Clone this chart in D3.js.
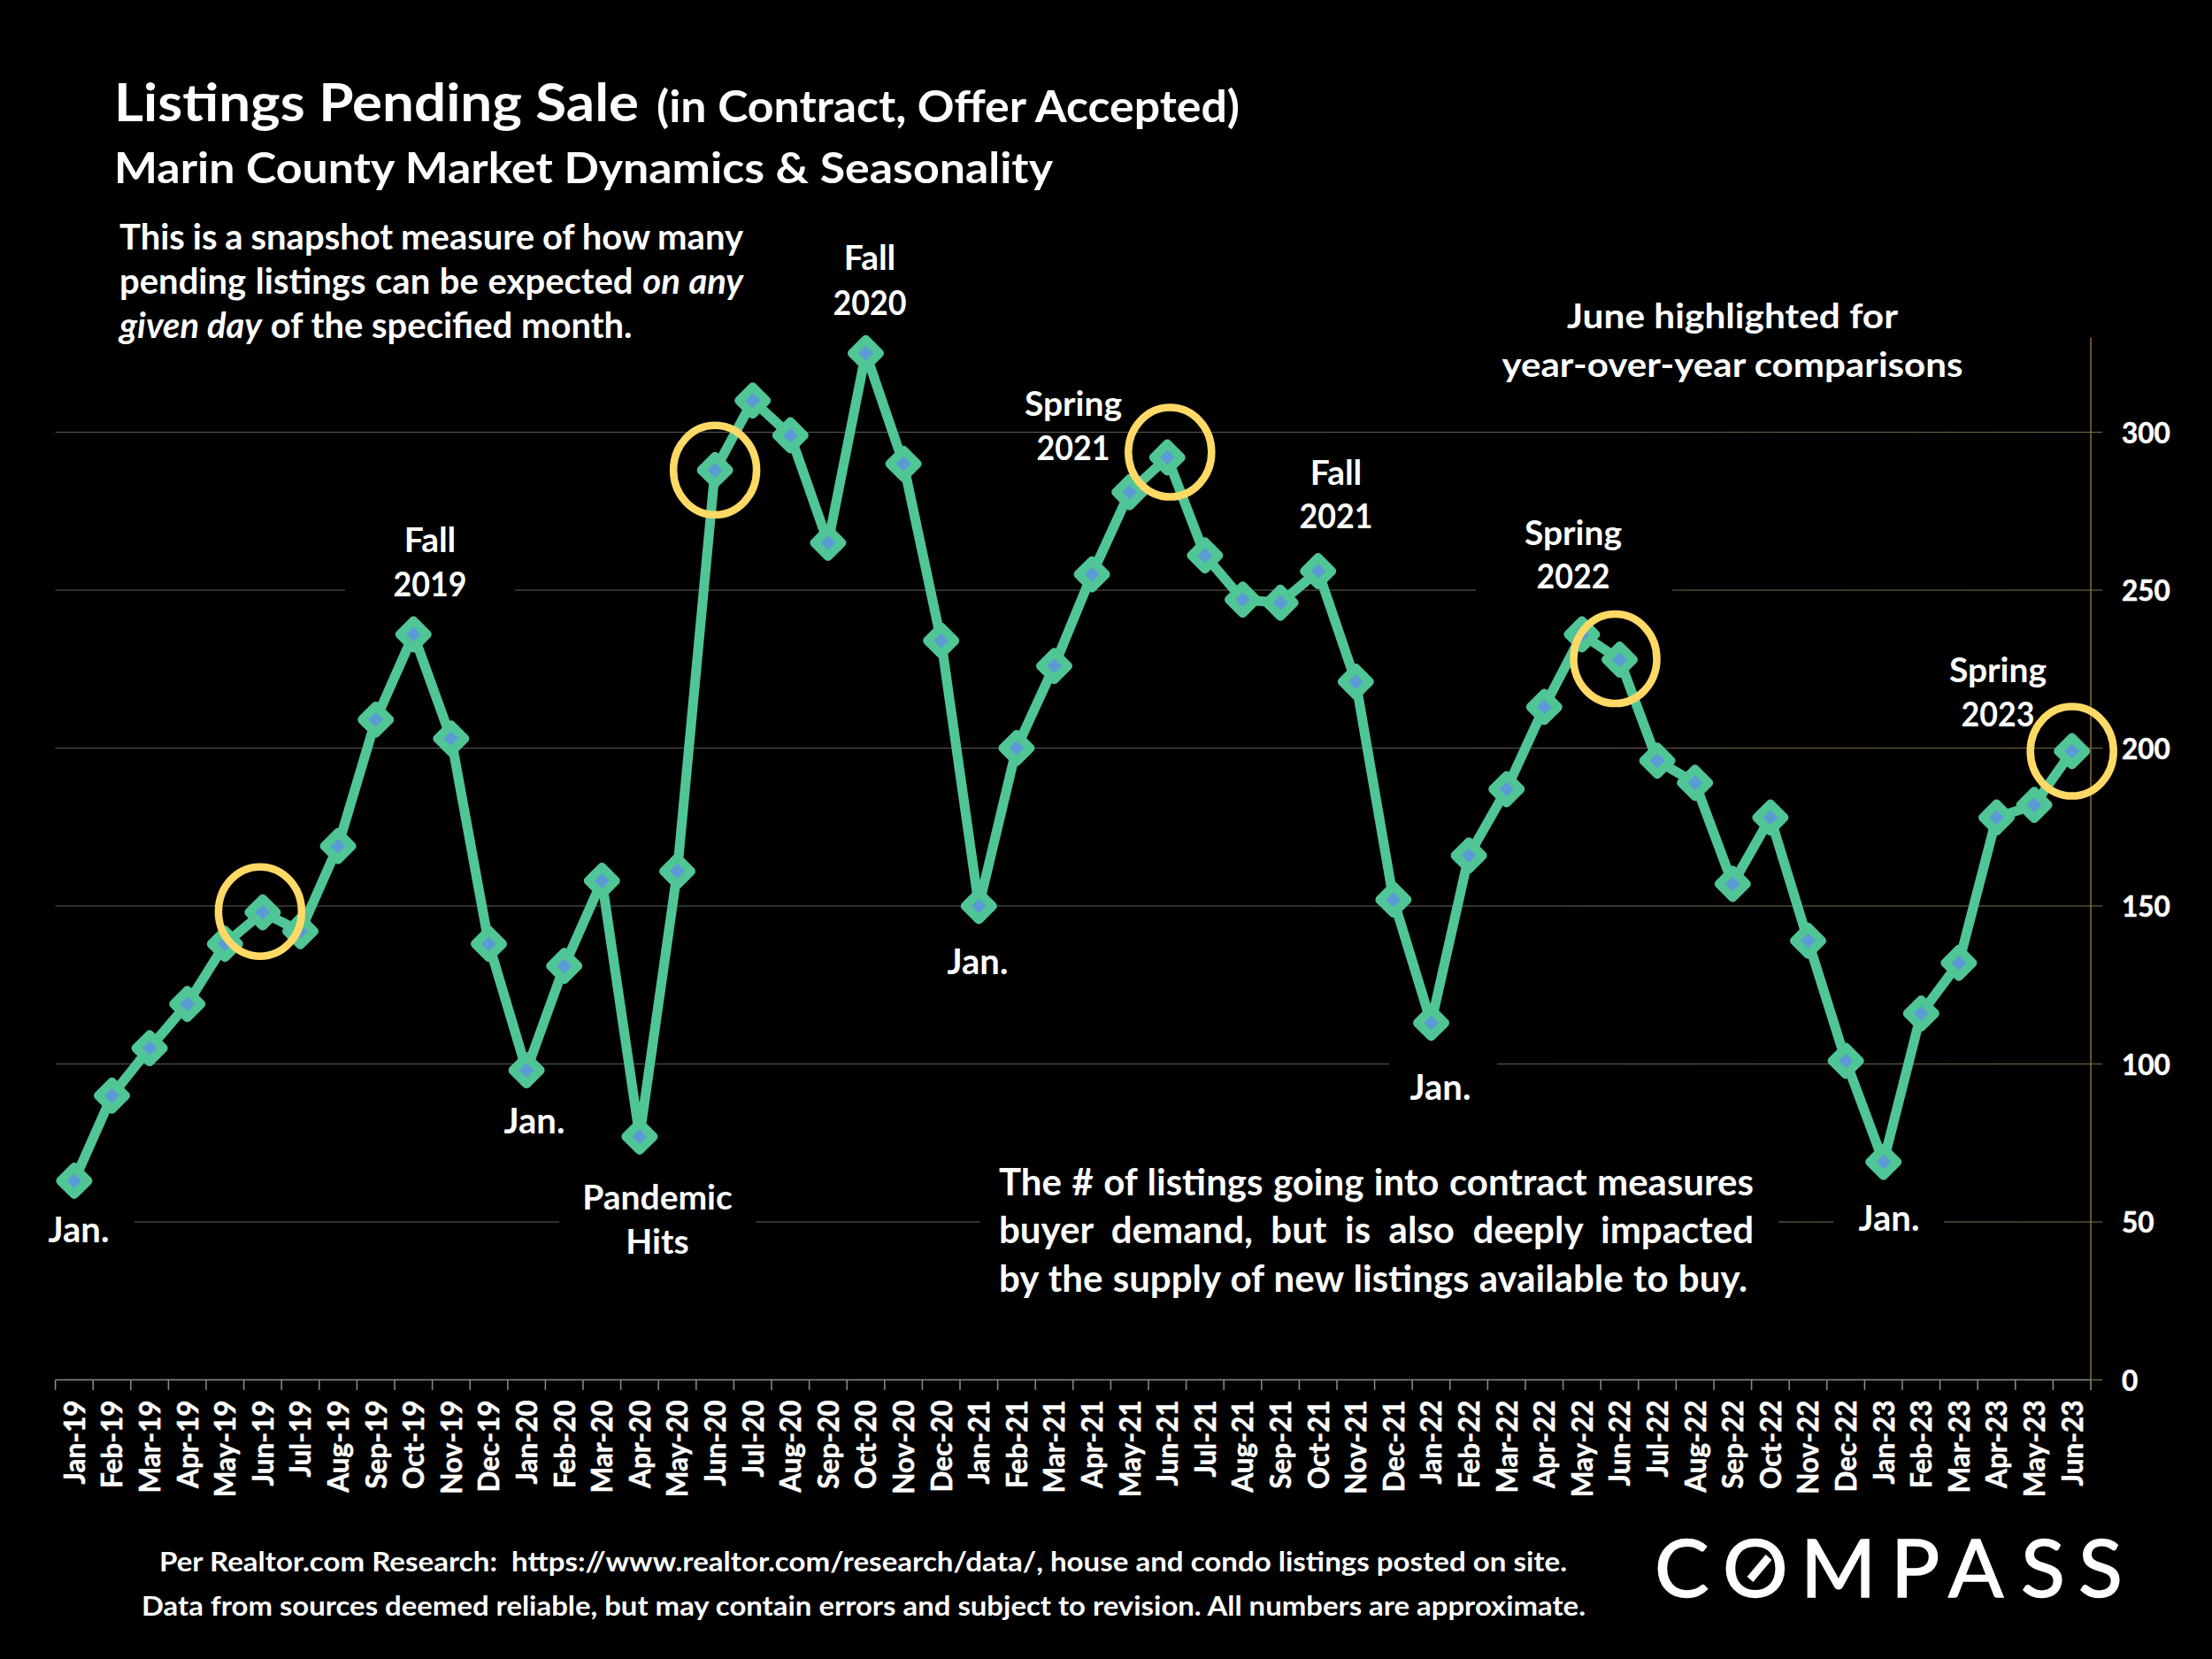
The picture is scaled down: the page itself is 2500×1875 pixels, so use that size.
<!DOCTYPE html>
<html><head><meta charset="utf-8">
<script src="https://cdnjs.cloudflare.com/ajax/libs/d3/7.8.5/d3.min.js"></script>
<style>html,body{margin:0;padding:0;background:#000}svg{display:block}text{font-family:Lato,"Open Sans",sans-serif;font-weight:700;fill:#fff}</style>
</head><body><svg id="c" width="2500" height="1875"></svg>
<script>
const months=["Jan-19","Feb-19","Mar-19","Apr-19","May-19","Jun-19","Jul-19","Aug-19","Sep-19","Oct-19","Nov-19","Dec-19","Jan-20","Feb-20","Mar-20","Apr-20","May-20","Jun-20","Jul-20","Aug-20","Sep-20","Oct-20","Nov-20","Dec-20","Jan-21","Feb-21","Mar-21","Apr-21","May-21","Jun-21","Jul-21","Aug-21","Sep-21","Oct-21","Nov-21","Dec-21","Jan-22","Feb-22","Mar-22","Apr-22","May-22","Jun-22","Jul-22","Aug-22","Sep-22","Oct-22","Nov-22","Dec-22","Jan-23","Feb-23","Mar-23","Apr-23","May-23","Jun-23"];
const pending=[63,90,105,119,138,148,142,169,209,236,203,138,98,131,158,77,161,288,310,299,265,325,290,234,150,200,226,255,281,292,261,247,246,256,221,152,113,166,187,213,236,228,196,189,157,178,139,101,69,116,132,178,182,199];
const yTicks=[0,50,100,150,200,250,300];
const highlighted=["Jun-19","Jun-20","Jun-21","Jun-22","Jun-23"];

const svg=d3.select("#c");
svg.append("rect").attr("width",2500).attr("height",1875).attr("fill","#000");
const x=d3.scaleBand().domain(months).range([62.6,2363]);
const y=d3.scaleLinear().domain([0,330]).range([1559.5,381.4]);

// gridlines
const defs=svg.append("defs");
const grad=defs.append("linearGradient").attr("id","gridFade").attr("gradientUnits","userSpaceOnUse").attr("x1",62).attr("x2",2376).attr("y1",0).attr("y2",0);
grad.append("stop").attr("offset","0").attr("stop-color","#505050");
grad.append("stop").attr("offset","0.6").attr("stop-color","#505050");
grad.append("stop").attr("offset","1").attr("stop-color","#6e5f3c");
const gridG=svg.append("g");
gridG.selectAll("rect").data(yTicks.filter(d=>d>0)).join("rect")
  .attr("x",62.6).attr("width",2376-62.6).attr("y",d=>y(d)-0.6).attr("height",1.2).attr("fill","url(#gridFade)");

// text boxes that mask the gridlines
const masks=[[390,640,192,60],[1668,640,222,60],[1570,1180,122,60],[60,1360,92,70],[632,1360,222,70],[1108,1360,902,70],[2072,1360,125,70]];
svg.append("g").selectAll("rect").data(masks).join("rect")
  .attr("x",d=>d[0]).attr("y",d=>d[1]).attr("width",d=>d[2]).attr("height",d=>d[3]).attr("fill","#000");

// axes
const xAxis=d3.axisBottom(x).tickSize(0).tickPadding(0);
const gx=svg.append("g").attr("transform",`translate(0,${y(0)})`).call(xAxis);
gx.select(".domain").remove();
gx.selectAll("text").attr("transform","rotate(-90)").attr("text-anchor","end")
  .attr("x",-23).attr("y",0).attr("dy","0.38em").style("font-size","31.5px").style("font-family","Lato").style("font-weight",700).style("stroke","#fff").style("stroke-width",0.5).attr("fill","#fff");
svg.append("line").attr("x1",62.6).attr("x2",2363).attr("y1",y(0)).attr("y2",y(0)).attr("stroke","#8c8c8c").attr("stroke-width",1.5);
svg.append("line").attr("x1",2363).attr("x2",2376).attr("y1",y(0)).attr("y2",y(0)).attr("stroke","#75643c").attr("stroke-width",1.5);
svg.append("g").selectAll("line").data(months.concat(["end"])).join("line")
  .attr("x1",(d,i)=>x.range()[0]+i*x.step()).attr("x2",(d,i)=>x.range()[0]+i*x.step())
  .attr("y1",y(0)).attr("y2",y(0)+11.5).attr("stroke","#8c8c8c").attr("stroke-width",1.5);

const yAxis=d3.axisRight(y).tickValues(yTicks).tickSize(0).tickPadding(35);
const gy=svg.append("g").attr("transform","translate(2363,0)").call(yAxis);
gy.select(".domain").remove();
gy.selectAll("text").attr("dy","0.37em").style("font-size","31.5px").style("font-family","Lato").style("font-weight",700).style("stroke","#fff").style("stroke-width",0.5).attr("fill","#fff");
svg.append("line").attr("x1",2363).attr("x2",2363).attr("y1",y(330)).attr("y2",y(0)).attr("stroke","#8a6d3b").attr("stroke-width",1.5);

// series
const cx=m=>x(m)+x.bandwidth()/2;
const line=d3.line().x((d,i)=>cx(months[i])).y(d=>y(d));
svg.append("path").datum(pending).attr("d",line).attr("fill","none").attr("stroke","#50C596").attr("stroke-width",11).attr("stroke-linejoin","round");
const diamond=d3.symbol().type(d3.symbolDiamond2).size(610);
svg.append("g").selectAll("path").data(pending).join("path").attr("d",diamond)
  .attr("transform",(d,i)=>`translate(${cx(months[i])},${y(d)})`)
  .attr("fill","#5B9BD5").attr("stroke","#50C596").attr("stroke-width",10).attr("stroke-linejoin","round");

// June rings
const ringNudge=[[-3,-1],[0,0],[3,-6],[-5,-1],[0,0]];
svg.append("g").selectAll("ellipse").data(highlighted).join("ellipse")
  .attr("cx",(m,i)=>cx(m)+ringNudge[i][0]).attr("cy",(m,i)=>y(pending[months.indexOf(m)])+ringNudge[i][1])
  .attr("rx",47).attr("ry",50.5).attr("fill","none").attr("stroke","#FFD966").attr("stroke-width",8.5);

// text helpers
function fit(t,px,py,size,width,anchor){
  const e=svg.append("text").attr("x",px).attr("y",py).style("font-size",size+"px").attr("text-anchor",anchor||"start").text(t);
  if(width){e.attr("textLength",width).attr("lengthAdjust","spacingAndGlyphs");}
  return e;
}
function just(segs,px,py,size,width,scaleX){
  const e=svg.append("text").attr("transform",`translate(${px},${py}) scale(${scaleX},1)`).style("font-size",size+"px");
  segs.forEach(s=>e.append("tspan").style("font-style",s[1]?"italic":"normal").text(s[0]));
  e.attr("xml:space","preserve").style("white-space","pre");
  if(width){
    const len=e.node().getComputedTextLength();
    const spaces=segs.map(s=>s[0]).join("").split(" ").length-1;
    e.style("word-spacing",((width/scaleX-len)/spaces)+"px");
  }
  return e;
}
fit("Listings Pending Sale",129,137,60,593);
fit("(in Contract, Offer Accepted)",742,138,50,659);
fit("Marin County Market Dynamics & Seasonality",129,207,48,1061);

just([["This is a snapshot measure of how many",0]],135,282,40,705,1);
just([["pending listings can be expected ",0],["on any",1]],135,332,40,705,1);
just([["given day",1],[" of the specified month.",0]],135,382,40,null,1);

function two(a,b,cxp,y1,y2){
  fit(a,cxp,y1+1,39,null,"middle");
  fit(b,cxp,y2+1,39,/^\d+$/.test(b)?83:null,"middle");
}
two("Fall","2019",486,623,673);
two("Fall","2020",983,304,355);
two("Spring","2021",1213,469,519);
two("Fall","2021",1510,547,596);
two("Spring","2022",1778,615,664);
two("Spring","2023",2258,770,820);
two("Pandemic","Hits",743,1366,1416);
fit("Jan.",89,1404,40,null,"middle");
fit("Jan.",604,1281,40,null,"middle");
fit("Jan.",1105,1101,40,null,"middle");
fit("Jan.",1628,1243,40,null,"middle");
fit("Jan.",2135,1391,40,null,"middle");

fit("June highlighted for",1958,371,39,374,"middle");
fit("year-over-year comparisons",1958,426,39,521,"middle");

just([["The # of listings going into contract measures",0]],1129,1351,42,853,1);
just([["buyer demand, but is also deeply impacted",0]],1129,1405,42,853,1);
just([["by the supply of new listings available to buy.",0]],1129,1460,42,846,1);

fit("Per Realtor.com Research:  https://www.realtor.com/research/data/, house and condo listings posted on site.",180,1776,31,1591).style("white-space","pre");
fit("Data from sources deemed reliable, but may contain errors and subject to revision. All numbers are approximate.",160,1826,31,1632);

// logo
svg.append("text").attr("x","1870 1947 2035 2137 2202 2284 2349").attr("y",1805).style("font-size","92px").style("font-weight",400).style("stroke","#fff").style("stroke-width",1.5).text("COMPASS");
svg.append("line").attr("x1",1978).attr("y1",1785).attr("x2",1999).attr("y2",1760).attr("stroke","#fff").attr("stroke-width",9);
</script></body></html>
